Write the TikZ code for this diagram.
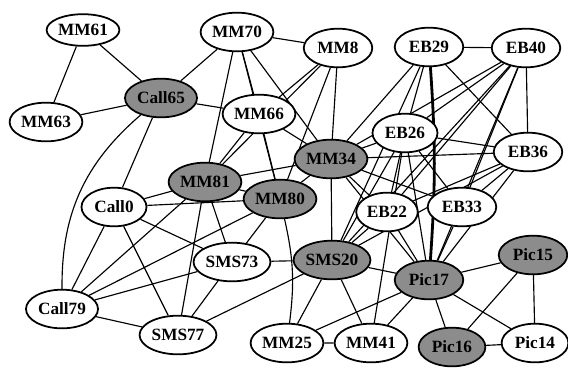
\documentclass[tikz,border=0pt]{standalone}
\usepackage{fontspec}
\setmainfont{Liberation Serif}
\usetikzlibrary{shapes.geometric,backgrounds}
\begin{document}
\begin{tikzpicture}[x=0.02cm,y=-0.02cm,
  nd/.style={ellipse,draw,line width=1pt,fill=white,minimum width=41pt,minimum height=22pt,inner sep=0.5pt,font=\fontsize{9.8}{11}\selectfont\bfseries},
  ndg/.style={nd,fill=black!45},
  lnk/.style={line width=0.65pt},
  thk/.style={line width=1.6pt}]
\useasboundingbox (0,0) rectangle (568,370);
\node[nd,minimum width=34pt,minimum height=18pt](MM61) at (83, 30) {MM61};
\node[nd](MM70) at (237, 32) {MM70};
\node[nd,minimum width=39pt](MM8) at (338, 48) {MM8};
\node[nd,minimum width=39pt](EB29) at (429, 47) {EB29};
\node[nd,minimum width=39pt](EB40) at (526, 48) {EB40};
\node[ndg](Call65) at (161, 98) {Call65};
\node[nd](MM63) at (46, 122) {MM63};
\node[nd](MM66) at (259, 114) {MM66};
\node[nd,minimum width=37pt](EB26) at (405, 133) {EB26};
\node[nd,minimum width=39pt](EB36) at (528, 152) {EB36};
\node[ndg](MM34) at (331, 159) {MM34};
\node[ndg](MM81) at (205, 182) {MM81};
\node[ndg](MM80) at (280, 199) {MM80};
\node[nd,minimum width=37pt](Call0) at (114, 207) {Call0};
\node[nd,minimum width=35pt](EB22) at (387, 212) {EB22};
\node[nd,minimum width=39pt](EB33) at (462, 207) {EB33};
\node[nd](SMS73) at (232, 262) {SMS73};
\node[ndg](SMS20) at (332, 260) {SMS20};
\node[ndg,minimum width=39pt](Pic17) at (429, 280) {Pic17};
\node[ndg,minimum width=39pt](Pic15) at (533, 255) {Pic15};
\node[nd](Call79) at (62, 309) {Call79};
\node[nd](SMS77) at (178, 335) {SMS77};
\node[nd](MM25) at (287, 343) {MM25};
\node[nd](MM41) at (371, 343) {MM41};
\node[ndg,minimum width=38pt](Pic16) at (452, 347) {Pic16};
\node[nd,minimum width=38pt](Pic14) at (535, 343) {Pic14};
\begin{pgfonlayer}{background}
\begin{scope}[lnk]
\draw (MM61) -- (MM63) -- (Call65) -- (MM61);
\draw (Call65) -- (MM70) -- (MM8);
\draw (Call65) -- (MM66);
\draw (Call65) -- (Call0);
\draw (Call65) to[bend right=25] (Call79);
\draw (MM70) -- (MM66);
\draw (MM70) -- (MM81);
\draw (MM70) -- (MM80);
\draw (MM70) -- (MM34);
\draw (MM8) -- (MM66);
\draw (MM8) -- (MM81);
\draw (MM8) -- (MM80);
\draw (MM8) -- (MM34);
\draw (MM66) -- (MM34);
\draw (MM66) -- (MM81);
\draw (MM66) -- (MM80);
\draw (EB29) -- (EB40) -- (EB36) -- (EB29);
\draw (EB29) -- (EB26);
\draw (EB29) -- (MM34);
\draw (EB29) -- (SMS20);
\draw[thk] (EB29) to[bend left=4] (Pic17);
\draw (EB40) -- (EB26);
\draw (EB40) -- (MM34);
\draw (EB40) -- (EB22);
\draw (EB40) -- (SMS20);
\draw (EB40) -- (EB33);
\draw (EB40) -- (Pic17);
\draw (EB26) -- (MM34);
\draw (EB26) -- (EB36);
\draw (EB26) -- (EB22);
\draw (EB26) -- (EB33);
\draw (EB26) -- (SMS20);
\draw (EB26) -- (Pic17);
\draw (EB26) -- (MM41);
\draw (EB36) -- (MM34);
\draw (EB36) -- (EB22);
\draw (EB36) -- (EB33);
\draw (EB36) -- (SMS20);
\draw (EB36) -- (Pic17);
\draw (MM34) -- (MM81);
\draw (MM34) -- (MM80);
\draw (MM34) -- (SMS20);
\draw (MM34) -- (EB22);
\draw (MM34) -- (EB33);
\draw (MM34) -- (Pic17);
\draw (MM81) -- (MM80);
\draw (MM81) -- (Call0);
\draw (MM81) -- (SMS73);
\draw (MM81) -- (SMS77);
\draw (MM81) -- (Call79);
\draw (MM80) -- (Call0);
\draw (MM80) -- (Call79);
\draw (MM80) -- (SMS73);
\draw (MM80) to[bend left=10] (MM25);
\draw (Call0) -- (Call79);
\draw (Call0) -- (SMS73);
\draw (Call0) -- (SMS77);
\draw (Call79) -- (SMS73);
\draw (Call79) -- (SMS77);
\draw (SMS77) -- (SMS73);
\draw (SMS77) -- (SMS20);
\draw (SMS73) -- (SMS20);
\draw (SMS20) -- (EB22);
\draw (SMS20) -- (Pic17);
\draw (SMS20) -- (MM41);
\draw (SMS20) -- (MM25);
\draw (Pic17) -- (EB22);
\draw (Pic17) -- (EB33);
\draw (Pic17) -- (Pic15) -- (Pic14) -- (Pic16) -- (Pic17) -- (Pic14);
\draw (Pic16) -- (Pic15);
\draw (Pic17) -- (MM41) -- (MM25) -- (Pic17);
\end{scope}
\end{pgfonlayer}
\end{tikzpicture}
\end{document}
